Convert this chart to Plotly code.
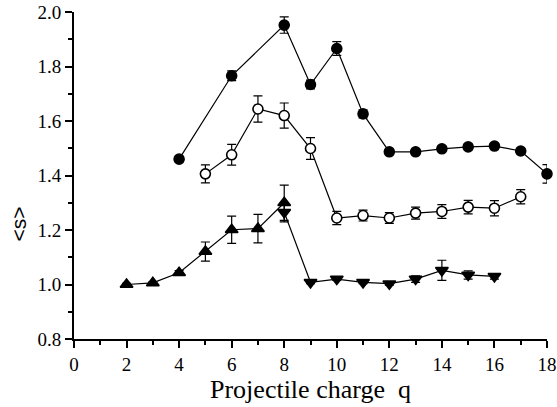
import plotly.graph_objects as go

# Series A: filled circles
qa = [4, 6, 8, 9, 10, 11, 12, 13, 14, 15, 16, 17, 18]
sa = [1.46, 1.766, 1.952, 1.734, 1.866, 1.626, 1.487, 1.487, 1.498, 1.505, 1.508, 1.49, 1.406]
ea = [0.01, 0.018, 0.03, 0.016, 0.025, 0.015, 0.01, 0.01, 0.01, 0.01, 0.01, 0.01, 0.034]

# Series B: open circles
qb = [5, 6, 7, 8, 9, 10, 11, 12, 13, 14, 15, 16, 17]
sb = [1.406, 1.476, 1.644, 1.62, 1.499, 1.244, 1.253, 1.244, 1.262, 1.268, 1.284, 1.28, 1.322]
eb = [0.033, 0.038, 0.048, 0.046, 0.04, 0.024, 0.02, 0.02, 0.022, 0.025, 0.025, 0.028, 0.026]

# Series C: up triangles
qc = [2, 3, 4, 5, 6, 7, 8]
sc = [1.0, 1.006, 1.043, 1.121, 1.201, 1.205, 1.30]
ec = [0.004, 0.004, 0.008, 0.035, 0.05, 0.052, 0.065]

# Series D: down triangles
qd = [8, 9, 10, 11, 12, 13, 14, 15, 16]
sd = [1.265, 1.008, 1.02, 1.008, 1.003, 1.02, 1.052, 1.035, 1.03]
ed = [0.035, 0.005, 0.005, 0.005, 0.005, 0.012, 0.037, 0.015, 0.01]

xticks = [0, 2, 4, 6, 8, 10, 12, 14, 16, 18]
yticks = [0.8, 1.0, 1.2, 1.4, 1.6, 1.8, 2.0]

fig = go.Figure()

def add(x, y, e, symbol, size, fill, name):
    fig.add_trace(go.Scatter(
        x=x, y=y, mode="lines+markers", name=name,
        line=dict(color="black", width=1.2),
        marker=dict(symbol=symbol, size=size, color=fill,
                    line=dict(color="black", width=1.6)),
        error_y=dict(type="data", array=e, visible=True, color="black",
                     thickness=1.2, width=4.5),
        cliponaxis=False,
    ))

add(qc, sc, ec, "triangle-up", 11, "black", "C")
add(qd, sd, ed, "triangle-down", 11, "black", "D")
add(qb, sb, eb, "circle", 10, "white", "B")
add(qa, sa, ea, "circle", 10, "black", "A")

serif = "Times New Roman"

axis_common = dict(
    showline=True, linecolor="black", linewidth=2,
    ticks="outside", ticklen=7, tickwidth=1.5, tickcolor="black",
    showgrid=False, zeroline=False, automargin=False,
    tickfont=dict(family=serif, size=19, color="black"),
)

fig.update_xaxes(range=[0, 18], tickvals=xticks,
                 ticktext=[str(v) for v in xticks],
                 minor=dict(dtick=1, tick0=0, ticks="outside", ticklen=4,
                            tickwidth=1.5, tickcolor="black"),
                 **axis_common)
fig.update_yaxes(range=[0.8, 2.0], tickvals=yticks,
                 ticktext=[f"{v:.1f}" for v in yticks],
                 minor=dict(dtick=0.1, tick0=0.8, ticks="outside", ticklen=4,
                            tickwidth=1.5, tickcolor="black"),
                 **axis_common)

fig.add_annotation(text="Projectile charge\u00a0\u00a0q", xref="paper", yref="paper",
                   x=0.5, y=0, xanchor="center", yanchor="top", yshift=-34,
                   showarrow=False,
                   font=dict(family=serif, size=26, color="black"))
fig.add_annotation(text="&lt;s&gt;", xref="paper", yref="paper",
                   x=0, y=0.5, xanchor="center", yanchor="middle",
                   xshift=-56, yshift=-49, textangle=-90, showarrow=False,
                   font=dict(family="Arial", size=21, color="black"))

fig.update_layout(
    width=557, height=407,
    margin=dict(l=74, r=10, t=12, b=68, autoexpand=False),
    plot_bgcolor="white", paper_bgcolor="white",
    font=dict(family=serif, color="black"),
    showlegend=False,
)

fig.write_html("out.html")
